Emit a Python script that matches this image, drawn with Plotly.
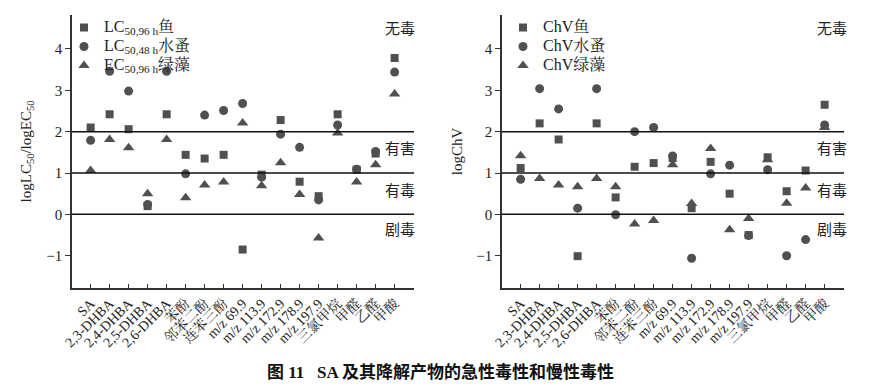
import plotly.graph_objects as go

categories = ["SA", "2,3-DHBA", "2,4-DHBA", "2,5-DHBA", "2,6-DHBA", "苯酚", "邻苯二酚", "连苯三酚",
              "m/z 69.9", "m/z 113.9", "m/z 172.9", "m/z 178.9", "m/z 197.9", "三氯甲烷", "甲醛", "乙醛", "甲酸"]

# Acute toxicity (left)
lc_fish = [2.10, 2.42, 2.06, 0.20, 2.42, 1.44, 1.35, 1.44, -0.85, 0.96, 2.28, 0.79, 0.44, 2.42, 1.08, 1.47, 3.78]
lc_daphnia = [1.79, 3.46, 2.98, 0.24, 3.46, 0.98, 2.40, 2.51, 2.68, 0.90, 1.94, 1.62, 0.35, 2.16, 1.09, 1.52, 3.44]
ec_algae = [1.06, 1.81, 1.61, 0.50, 1.81, 0.40, 0.71, 0.78, 2.21, 0.69, 1.25, 0.48, -0.57, 1.97, 0.78, 1.20, 2.91]

# Chronic toxicity (right)
chv_fish = [1.12, 2.20, 1.81, -1.01, 2.20, 0.41, 1.15, 1.24, 1.36, 0.15, 1.27, 0.50, -0.50, 1.38, 0.56, 1.06, 2.65]
chv_daphnia = [0.85, 3.04, 2.55, 0.15, 3.04, -0.01, 2.00, 2.10, 1.41, -1.06, 0.98, 1.19, -0.51, 1.08, -1.00, -0.61, 2.16]
chv_algae = [1.42, 0.87, 0.71, 0.67, 0.87, 0.67, -0.23, -0.15, 1.20, 0.26, 1.59, -0.37, -0.10, 1.32, 0.27, 0.64, 2.10]

thresholds = [0, 1, 2]
zone_labels = ["无毒", "有害", "有毒", "剧毒"]
zone_y = [4.53, 1.62, 0.60, -0.35]

MC = "#505050"
SERIF = "Liberation Serif, Times New Roman, Noto Serif CJK SC, Noto Sans CJK SC, serif"

# page body has an 8px default margin; size and place everything relative to the window
OFF = 8
W, H = 875 - OFF, 387 - OFF


def X(px):
    return (px - OFF) / W


def Y(py):
    return 1 - (py - OFF) / H


fig = go.Figure()


def big(t):
    return f'<span style="font-size:16px">{t}</span>'


def add_series(vals, name, symbol, size, xa, ya, legend):
    fig.add_trace(go.Scatter(
        x=list(range(len(categories))), y=vals, mode="markers", name=name,
        marker=dict(symbol=symbol, size=size, color=MC, line=dict(width=0)),
        xaxis=xa, yaxis=ya, legend=legend))


add_series(lc_fish, big("LC<sub>50,96 h</sub>鱼"), "square", 8, "x", "y", "legend")
add_series(lc_daphnia, big("LC<sub>50,48 h</sub>水蚤"), "circle", 9, "x", "y", "legend")
add_series(ec_algae, big("EC<sub>50,96 h</sub>绿藻"), "triangle-up", 10, "x", "y", "legend")
add_series(chv_fish, big("ChV鱼"), "square", 8, "x2", "y2", "legend2")
add_series(chv_daphnia, big("ChV水蚤"), "circle", 9, "x2", "y2", "legend2")
add_series(chv_algae, big("ChV绿藻"), "triangle-up", 10, "x2", "y2", "legend2")

dom1 = [X(72), X(414)]
dom2 = [X(502), X(844)]
ydom = [Y(288), Y(15)]
yr = [-1.78, 4.82]

xcommon = dict(range=[-0.98, 17.02], tickmode="array", tickvals=list(range(len(categories))),
               ticktext=categories, tickangle=-45, showline=True, linecolor="#333", linewidth=1.5,
               ticks="inside", ticklen=4, tickcolor="#333", showgrid=False, zeroline=False,
               automargin=False,
               tickfont=dict(family=SERIF, size=14, color="#222"))
ycommon = dict(range=yr, tickvals=[-1, 0, 1, 2, 3, 4], ticktext=["−1", "0", "1", "2", "3", "4"],
               showline=True, linecolor="#333", linewidth=1.5, ticks="outside", ticklen=5,
               tickcolor="#333", showgrid=False, zeroline=False, automargin=False,
               tickfont=dict(family=SERIF, size=15, color="#222"))

legcommon = dict(xanchor="left", yanchor="top", bgcolor="rgba(0,0,0,0)",
                 font=dict(family=SERIF, size=11, color="#222"), tracegroupgap=0, itemwidth=30,
                 indentation=-12)

fig.update_layout(
    width=W, height=H, margin=dict(l=0, r=0, t=0, b=0),
    paper_bgcolor="white", plot_bgcolor="white",
    xaxis=dict(domain=dom1, anchor="y", **xcommon),
    yaxis=dict(domain=ydom, anchor="x",
               title=dict(text="logLC<sub>50</sub>/logEC<sub>50</sub>", font=dict(family=SERIF, size=15, color="#222"), standoff=11),
               **ycommon),
    xaxis2=dict(domain=dom2, anchor="y2", **xcommon),
    yaxis2=dict(domain=ydom, anchor="x2",
                title=dict(text="logChV", font=dict(family=SERIF, size=15, color="#222"), standoff=10),
                **ycommon),
    legend=dict(x=X(76), y=Y(13), **legcommon),
    legend2=dict(x=X(515), y=Y(13), **legcommon),
    showlegend=True,
)

for xr, yref in [("x", "y"), ("x2", "y2")]:
    for t in thresholds:
        fig.add_shape(type="line", xref=f"{xr} domain", yref=yref, x0=0, x1=1, y0=t, y1=t,
                      line=dict(color="#111", width=1.5))
    xpos = 16.3 if xr == "x" else 16.4
    for lab, yv in zip(zone_labels, zone_y):
        fig.add_annotation(x=xpos, y=yv, xref=xr, yref=yref, text=lab, showarrow=False,
                           font=dict(family="Noto Sans CJK SC", size=15, color="#222"))

fig.add_annotation(x=X(440), y=Y(372), xref="paper", yref="paper", showarrow=False,
                   xanchor="center", yanchor="middle",
                   text="<b>图 11   SA 及其降解产物的急性毒性和慢性毒性</b>",
                   font=dict(family="Liberation Serif, Noto Sans CJK SC", size=17, color="#111"))

fig.write_html("out.html")
